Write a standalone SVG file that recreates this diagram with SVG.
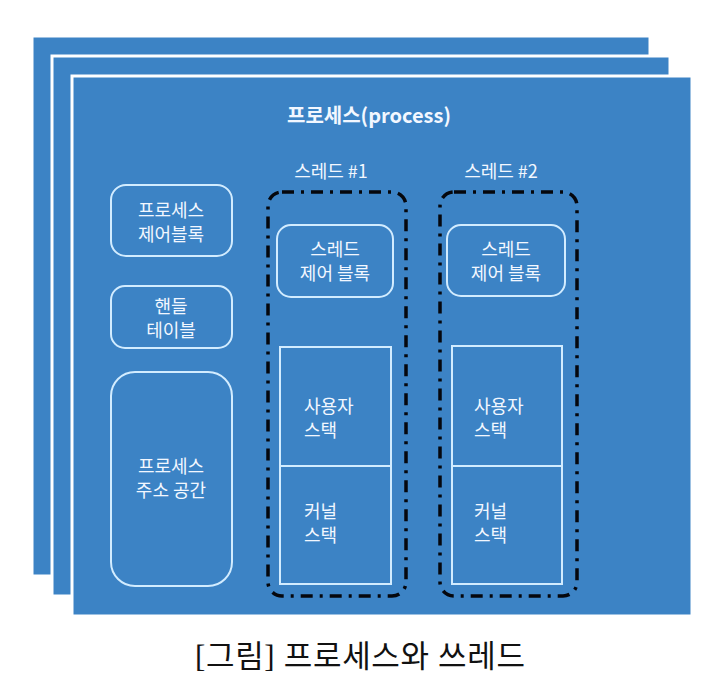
<svg xmlns="http://www.w3.org/2000/svg" width="720" height="680" viewBox="0 0 720 680">
<style>
.panel{fill:#3C83C5;stroke:#FFFFFF;stroke-width:3}
.box{fill:none;stroke:#D2ECFF;stroke-width:2}
.t{font-family:"Noto Sans CJK KR","Liberation Sans",sans-serif;font-size:18px;fill:#F2F7FF;text-anchor:middle}
.tl{font-family:"Noto Sans CJK KR","Liberation Sans",sans-serif;font-size:18px;fill:#F2F7FF}
.thread{fill:none;stroke:#05070D;stroke-width:3.5;stroke-dasharray:12 7 3 7;stroke-linecap:butt}
</style>
<rect width="720" height="680" fill="#FFFFFF"/>
<g id="panels">
<rect class="panel" x="32" y="36" width="618" height="540"/>
<rect class="panel" x="52" y="56" width="618" height="540"/>
<rect class="panel" x="72" y="76" width="620" height="540"/>
</g>
<text class="t" x="369" y="123" style="font-weight:bold;font-size:20px">프로세스(process)</text>
<g id="pcb">
<rect class="box" x="111" y="185" width="121" height="71" rx="15"/>
<text class="t" x="171" y="217">프로세스</text>
<text class="t" x="171" y="241">제어블록</text>
</g>
<g id="handle">
<rect class="box" x="111" y="286" width="121" height="62" rx="14"/>
<text class="t" x="171" y="313">핸들</text>
<text class="t" x="171" y="337">테이블</text>
</g>
<g id="addr">
<rect class="box" x="111" y="372" width="121" height="214" rx="24"/>
<text class="t" x="171" y="473">프로세스</text>
<text class="t" x="171" y="497">주소 공간</text>
</g>
<g id="thread1">
<text class="t" x="331" y="178">스레드 #1</text>
<rect class="thread" x="268" y="192" width="138" height="404" rx="14"/>
<rect class="box" x="277" y="225" width="116" height="72" rx="14"/>
<text class="t" x="335" y="256">스레드</text>
<text class="t" x="335" y="280">제어 블록</text>
<rect class="box" x="280" y="347" width="111" height="237"/>
<line class="box" x1="280" y1="466" x2="391" y2="466"/>
<text class="tl" x="304" y="413">사용자</text>
<text class="tl" x="304" y="437">스택</text>
<text class="tl" x="304" y="518">커널</text>
<text class="tl" x="304" y="542">스택</text>
</g>
<g id="thread2">
<text class="t" x="501" y="178">스레드 #2</text>
<rect class="thread" x="440" y="192" width="137" height="404" rx="14"/>
<rect class="box" x="447" y="225" width="118" height="71" rx="14"/>
<text class="t" x="506" y="256">스레드</text>
<text class="t" x="506" y="280">제어 블록</text>
<rect class="box" x="452" y="346" width="110" height="238"/>
<line class="box" x1="452" y1="466" x2="562" y2="466"/>
<text class="tl" x="474" y="413">사용자</text>
<text class="tl" x="474" y="437">스택</text>
<text class="tl" x="474" y="518">커널</text>
<text class="tl" x="474" y="542">스택</text>
</g>
<text x="360" y="667" text-anchor="middle" textLength="330" lengthAdjust="spacing" style="font-family:'Liberation Serif','Noto Sans CJK KR',serif;font-size:31px;fill:#111111">[그림] 프로세스와 쓰레드</text>
</svg>
